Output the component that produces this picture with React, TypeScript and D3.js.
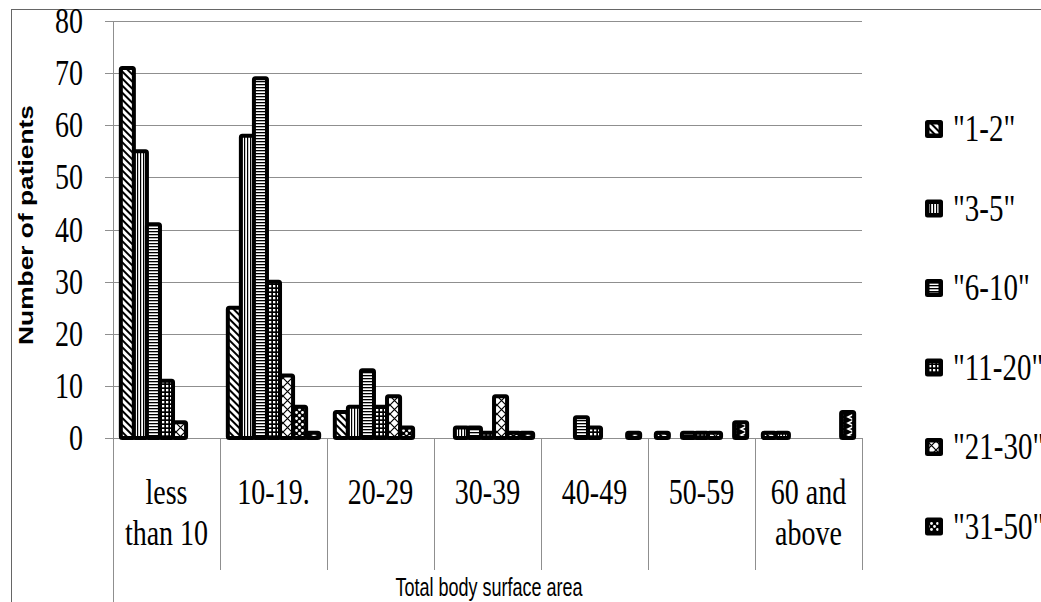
import * as d3 from "d3";
import React from "react";

// categories (total body surface area) and their label lines
const categories = ["less than 10", "10-19.", "20-29", "30-39", "40-49", "50-59", "60 and above"];
const categoryLines = [["less", "than 10"], ["10-19."], ["20-29"], ["30-39"], ["40-49"], ["50-59"], ["60 and", "above"]];

// series (legend), the last one falls below the visible legend
const seriesNames = ['"1-2"', '"3-5"', '"6-10"', '"11-20"', '"21-30"', '"31-50"', '">50"'];

// number of patients per series, one value per category
const s1 = [71, 25, 5, 0, 0, 1, 1];
const s2 = [55, 58, 6, 2, 0, 0, 1];
const s3 = [41, 69, 13, 2, 4, 1, 0];
const s4 = [11, 30, 6, 1, 2, 1, 0];
const s5 = [3, 12, 8, 8, 0, 1, 0];
const s6 = [0, 6, 2, 1, 0, 0, 0];
const s7 = [0, 1, 0, 1, 1, 3, 5];
const seriesValues = [s1, s2, s3, s4, s5, s6, s7];

const yTicks = [0, 10, 20, 30, 40, 50, 60, 70, 80];

const W = 1041;
const H = 602;
const plot = { left: 113, right: 862, top: 21, bottom: 438 };
const serif = "'Liberation Serif', 'Times New Roman', serif";
const sans = "'Liberation Sans', Arial, sans-serif";
const K = 1.3; // vertical stretch of the text in the original image
const grid = "#8f8f8f";

function Patterns() {
  return (
    <defs>
      <pattern id="p0" width="5" height="5" patternUnits="userSpaceOnUse" patternTransform="rotate(-45)">
        <rect width="5" height="5" fill="#fff" />
        <rect width="2" height="5" fill="#000" />
      </pattern>
      <pattern id="p1" width="3" height="3" patternUnits="userSpaceOnUse">
        <rect width="3" height="3" fill="#fff" />
        <rect width="1.2" height="3" fill="#000" />
      </pattern>
      <pattern id="p2" width="3" height="3" patternUnits="userSpaceOnUse">
        <rect width="3" height="3" fill="#fff" />
        <rect width="3" height="1.3" fill="#000" />
      </pattern>
      <pattern id="p3" width="4" height="4" patternUnits="userSpaceOnUse">
        <rect width="4" height="4" fill="#000" />
        <rect x="1" y="1" width="2.3" height="2.3" fill="#fff" />
      </pattern>
      <pattern id="p4" width="9" height="9" patternUnits="userSpaceOnUse">
        <rect width="9" height="9" fill="#fff" />
        <path d="M0,0L9,9M9,0L0,9" stroke="#000" strokeWidth="1.2" />
      </pattern>
      <pattern id="p5" width="6" height="6" patternUnits="userSpaceOnUse">
        <rect width="6" height="6" fill="#000" />
        <circle cx="1.5" cy="1.5" r="1.4" fill="#fff" />
        <circle cx="4.5" cy="4.5" r="1.4" fill="#fff" />
      </pattern>
      <pattern id="p6" width="10" height="6" patternUnits="userSpaceOnUse">
        <rect width="10" height="6" fill="#000" />
        <polyline points="8,0.5 3,3 8,5.5" fill="none" stroke="#fff" strokeWidth="1.6" />
      </pattern>
    </defs>
  );
}

function STxt({ x, y, k = K, anchor = "middle", dy = "0", size, family, weight, rotate, children }: any) {
  return (
    <g transform={`translate(${x},${y}) scale(1,${k})${rotate ? ` rotate(${rotate})` : ""}`}>
      <text textAnchor={anchor} dy={dy} fontSize={size} fontFamily={family} fontWeight={weight} fill="#000">
        {children}
      </text>
    </g>
  );
}

export default function App() {
  const x0 = d3.scaleBand().domain(categories).range([plot.left, plot.right]).padding(0);
  const x1 = d3
    .scaleBand()
    .domain(seriesNames)
    .range([0, x0.bandwidth()])
    .paddingInner(0)
    .paddingOuter(0.6);
  const y = d3.scaleLinear().domain([0, 80]).range([plot.bottom, plot.top]);

  const legendY = d3.scaleLinear().domain([0, 1]).range([129, 208.5]);

  return (
    <svg width={W} height={H} style={{ position: "absolute", left: 0, top: 0, background: "#fff" }}>
      <Patterns />
      <rect x={11.5} y={9.5} width={1200} height={800} fill="#fff" stroke="#666" />

      {/* gridlines and y ticks */}
      {yTicks.map((t) => (
        <g key={t}>
          <line x1={plot.left} x2={plot.right} y1={Math.round(y(t)) + 0.5} y2={Math.round(y(t)) + 0.5} stroke={grid} />
          <line x1={105} x2={plot.left} y1={Math.round(y(t)) + 0.5} y2={Math.round(y(t)) + 0.5} stroke={grid} />
          <STxt x={83} y={y(t)} anchor="end" dy="0.33em" size={28} family={serif}>
            {t}
          </STxt>
        </g>
      ))}
      <line x1={plot.left + 0.5} x2={plot.left + 0.5} y1={plot.top} y2={H} stroke={grid} />

      {/* category separators */}
      {categories.map((c) => (
        <line
          key={c}
          x1={Math.round(x0(c)! + x0.bandwidth()) + 0.5}
          x2={Math.round(x0(c)! + x0.bandwidth()) + 0.5}
          y1={plot.bottom}
          y2={570}
          stroke={grid}
        />
      ))}

      {/* bars */}
      {categories.map((c, ci) => (
        <g key={c} transform={`translate(${x0(c)},0)`}>
          {seriesNames.map((s, si) => {
            const v = seriesValues[si][ci];
            if (!v) return null;
            return (
              <rect
                key={s}
                x={x1(s)}
                y={y(v)}
                width={x1.bandwidth()}
                height={y(0) - y(v)}
                fill={`url(#p${si})`}
                stroke="#000"
                strokeWidth={4}
                strokeLinejoin="round"
                rx={1.5}
              />
            );
          })}
        </g>
      ))}

      {/* category labels */}
      {categories.map((c, ci) =>
        categoryLines[ci].map((line, li) => (
          <STxt key={c + li} x={x0(c)! + x0.bandwidth() / 2} y={504 + li * 41} size={28} family={serif}>
            {line}
          </STxt>
        ))
      )}

      {/* axis titles */}
      <STxt x={489} y={596} size={18} family={sans} k={1.45}>
        Total body surface area
      </STxt>
      <STxt x={33} y={225} size={19.5} family={sans} weight="bold" k={1.35} rotate={-90}>
        Number of patients
      </STxt>

      {/* legend */}
      {seriesNames.slice(0, 6).map((s, i) => {
        const cy = legendY(i);
        return (
          <g key={s}>
            <rect x={925} y={cy - 9} width={18} height={18} rx={2.5} fill="#000" />
            <rect x={929.5} y={cy - 4.5} width={9} height={9} fill={`url(#p${i})`} />
            <STxt x={953} y={cy} anchor="start" dy="0.33em" size={29} family={serif}>
              {s}
            </STxt>
          </g>
        );
      })}
    </svg>
  );
}
